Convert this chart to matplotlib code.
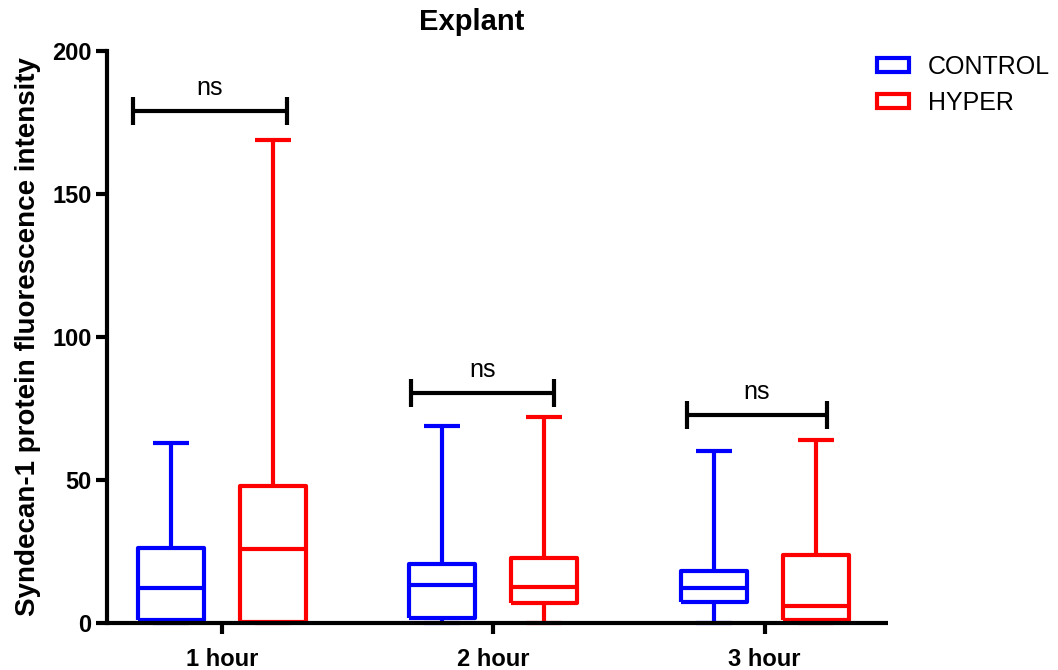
import matplotlib
matplotlib.use("Agg")
import matplotlib.pyplot as plt
from matplotlib.patches import Patch

plt.rcParams['font.family'] = ['Liberation Sans', 'DejaVu Sans']

categories = ["1 hour", "2 hour", "3 hour"]
groups = ["CONTROL", "HYPER"]
colors = {"CONTROL": "#0000ff", "HYPER": "#ff0000"}

# five-number summaries: min, q1, median, q3, max
control_min = [0, 0, 0]
control_q1 = [1, 1.7, 7.3]
control_med = [12.2, 13.3, 12.2]
control_q3 = [26.2, 20.6, 18.2]
control_max = [63, 69, 60]

hyper_min = [0, 0, 0]
hyper_q1 = [0.5, 7.0, 1.0]
hyper_med = [25.9, 12.6, 5.9]
hyper_q3 = [47.9, 22.7, 23.8]
hyper_max = [169, 72, 64]

sig_y = [179, 80.4, 72.7]
sig_text = ["ns", "ns", "ns"]

fig = plt.figure(figsize=(10.58, 6.70), dpi=100)
ax = fig.add_axes([0.101, 0.070, 0.738, 0.854])

offset = 0.188
width = 0.243
lw = 3.0

def stats(mins, q1s, meds, q3s, maxs):
    return [dict(whislo=a, q1=b, med=c, q3=d, whishi=e, fliers=[])
            for a, b, c, d, e in zip(mins, q1s, meds, q3s, maxs)]

data = {
    "CONTROL": stats(control_min, control_q1, control_med, control_q3, control_max),
    "HYPER": stats(hyper_min, hyper_q1, hyper_med, hyper_q3, hyper_max),
}

for gi, g in enumerate(groups):
    pos = [i + (-offset if gi == 0 else offset) for i in range(len(categories))]
    c = colors[g]
    art = ax.bxp(data[g], positions=pos, widths=width, showfliers=False,
                 patch_artist=False, manage_ticks=False,
                 boxprops=dict(color=c, linewidth=lw),
                 whiskerprops=dict(color=c, linewidth=lw),
                 capprops=dict(color=c, linewidth=lw),
                 medianprops=dict(color=c, linewidth=lw),
                 capwidths=width * 0.55)
    for k in art:
        for a in art[k]:
            a.set_clip_on(False)
            a.set_solid_capstyle('butt')

# significance brackets
left_ext = [-0.328, -0.302, -0.287]
right_ext = [0.239, 0.225, 0.228]
for i, (y, t) in enumerate(zip(sig_y, sig_text)):
    x0 = i + left_ext[i]
    x1 = i + right_ext[i]
    ax.plot([x0, x1], [y, y], color="black", lw=lw, solid_capstyle='butt', clip_on=False)
    for xx in (x0, x1):
        ax.plot([xx, xx], [y - 4.8, y + 4.8], color="black", lw=lw,
                solid_capstyle='butt', clip_on=False)
    ax.text((x0 + x1) / 2, y + 4.0, t, ha="center", va="bottom", fontsize=18)

ax.set_xlim(-0.424, 2.453)
ax.set_ylim(0, 200)
ax.set_yticks([0, 50, 100, 150, 200])
ax.set_xticks(range(len(categories)))
ax.set_xticklabels(categories)
for lab in ax.get_xticklabels() + ax.get_yticklabels():
    lab.set_fontweight("bold")
    lab.set_fontsize(17)
ax.tick_params(axis="both", width=3, length=8, direction="out", pad=3)
ax.tick_params(axis="x", pad=10)

for s in ["top", "right"]:
    ax.spines[s].set_visible(False)
for s in ["left", "bottom"]:
    ax.spines[s].set_linewidth(3)
ax.spines["bottom"].set_capstyle("butt")

ax.set_ylabel("Syndecan-1 protein fluorescence intensity", fontsize=20,
              fontweight="bold", labelpad=8)
fig.text(0.446, 0.967, "Explant", ha="center", va="center", fontsize=21, fontweight="bold")

handles = [Patch(facecolor="none", edgecolor=colors[g], linewidth=3, label=g) for g in groups]
fig.legend(handles=handles, loc="upper left", bbox_to_anchor=(0.819, 0.933),
           frameon=False, fontsize=18, handlelength=1.3, handleheight=0.5,
           labelspacing=0.48, handletextpad=0.75, borderaxespad=0.0)

fig.savefig("out.png", dpi=100)
